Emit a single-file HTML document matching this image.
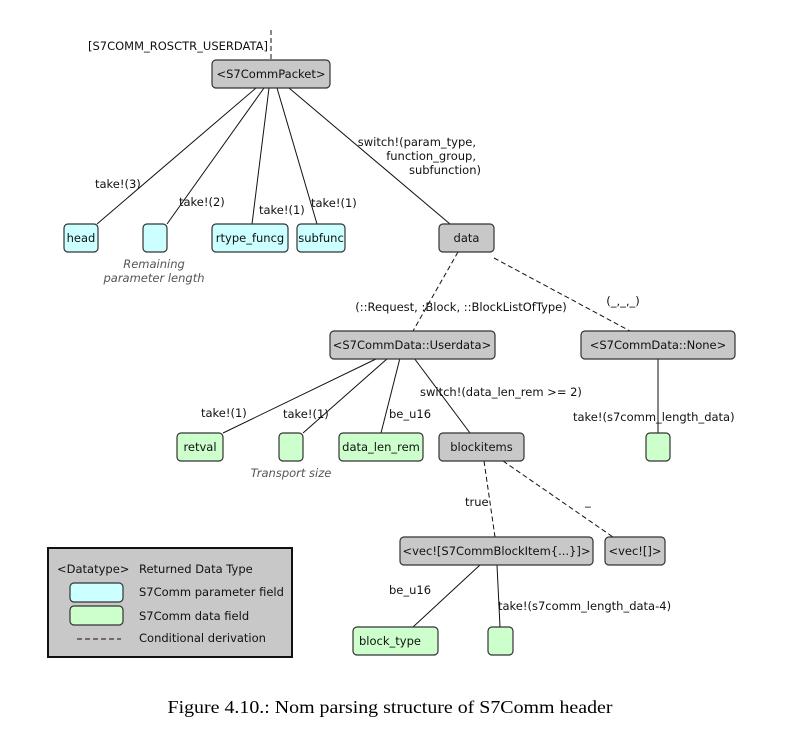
<!DOCTYPE html>
<html><head><meta charset="utf-8"><style>
html,body{margin:0;padding:0;background:#fff;}
svg{display:block;}
text{font-family:"DejaVu Sans","Liberation Sans",sans-serif;font-size:11.5px;fill:#111;}
.n{fill:#c8c8c8;stroke:#333;stroke-width:1.2;}
.p{fill:#ccffff;stroke:#333;stroke-width:1.2;}
.d{fill:#ccffcc;stroke:#333;stroke-width:1.2;}
.l{stroke:#111;stroke-width:1;fill:none;}
.ds{stroke:#111;stroke-width:1;fill:none;stroke-dasharray:5,3;}
.i{font-style:italic;fill:#555;}
</style></head><body>
<svg width="793" height="741" viewBox="0 0 793 741">
<line class="ds" x1="271" y1="30" x2="271" y2="60"/>
<line class="l" x1="256" y1="88" x2="97" y2="224"/>
<line class="l" x1="264" y1="88" x2="167" y2="224"/>
<line class="l" x1="269" y1="88" x2="252" y2="224"/>
<line class="l" x1="277" y1="88" x2="317" y2="224"/>
<line class="l" x1="289" y1="88" x2="450" y2="224"/>
<line class="ds" x1="458" y1="252" x2="413" y2="331"/>
<line class="ds" x1="494" y1="258" x2="630" y2="331"/>
<line class="l" x1="378" y1="358" x2="223" y2="433"/>
<line class="l" x1="388" y1="358" x2="303" y2="433"/>
<line class="l" x1="400" y1="358" x2="381" y2="433"/>
<line class="l" x1="414" y1="358" x2="470" y2="433"/>
<line class="l" x1="658" y1="358" x2="658" y2="433"/>
<line class="ds" x1="484" y1="461" x2="495" y2="537"/>
<line class="ds" x1="503" y1="461" x2="613" y2="537"/>
<line class="l" x1="480" y1="565" x2="413" y2="627"/>
<line class="l" x1="497" y1="565" x2="500" y2="627"/>

<rect class="n" x="212" y="60" width="118" height="28" rx="4"/>
<text x="271" y="78" text-anchor="middle">&lt;S7CommPacket&gt;</text>
<text x="268" y="50" text-anchor="end">[S7COMM_ROSCTR_USERDATA]</text>

<rect class="p" x="64" y="224" width="34" height="28" rx="4"/>
<text x="81" y="242" text-anchor="middle">head</text>
<rect class="p" x="143" y="224" width="24" height="28" rx="4"/>
<rect class="p" x="212" y="224" width="76" height="28" rx="4"/>
<text x="250" y="242" text-anchor="middle">rtype_funcg</text>
<rect class="p" x="297" y="224" width="48" height="28" rx="4"/>
<text x="321" y="242" text-anchor="middle">subfunc</text>
<rect class="n" x="439" y="224" width="55" height="28" rx="4"/>
<text x="466.5" y="242" text-anchor="middle">data</text>

<text x="95" y="188">take!(3)</text>
<text x="179" y="206">take!(2)</text>
<text x="259" y="214">take!(1)</text>
<text x="311" y="207">take!(1)</text>
<text x="476" y="146" text-anchor="end">switch!(param_type,</text>
<text x="476" y="160" text-anchor="end">function_group,</text>
<text x="481" y="174" text-anchor="end">subfunction)</text>
<text class="i" x="154" y="268" text-anchor="middle">Remaining</text>
<text class="i" x="154" y="282" text-anchor="middle">parameter length</text>

<text x="461" y="311" text-anchor="middle">(::Request, :Block, ::BlockListOfType)</text>
<text x="623" y="305" text-anchor="middle">(_,_,_)</text>

<rect class="n" x="330" y="331" width="165" height="28" rx="4"/>
<text x="412" y="349" text-anchor="middle">&lt;S7CommData::Userdata&gt;</text>
<rect class="n" x="581" y="331" width="154" height="28" rx="4"/>
<text x="658" y="349" text-anchor="middle">&lt;S7CommData::None&gt;</text>

<text x="201" y="417">take!(1)</text>
<text x="283" y="418">take!(1)</text>
<text x="389" y="418">be_u16</text>
<text x="420" y="396">switch!(data_len_rem &gt;= 2)</text>
<text x="573" y="421">take!(s7comm_length_data)</text>

<rect class="d" x="177" y="433" width="46" height="28" rx="4"/>
<text x="200" y="451" text-anchor="middle">retval</text>
<rect class="d" x="279" y="433" width="24" height="28" rx="4"/>
<rect class="d" x="339" y="433" width="84" height="28" rx="4"/>
<text x="381" y="451" text-anchor="middle">data_len_rem</text>
<rect class="n" x="439" y="433" width="85" height="28" rx="4"/>
<text x="481.5" y="451" text-anchor="middle">blockitems</text>
<rect class="d" x="646" y="433" width="24" height="28" rx="4"/>
<text class="i" x="291" y="477" text-anchor="middle">Transport size</text>

<text x="465" y="506">true</text>
<text x="585" y="505">_</text>

<rect class="n" x="400" y="537" width="193" height="28" rx="4"/>
<text x="496.5" y="555" text-anchor="middle">&lt;vec![S7CommBlockItem{...}]&gt;</text>
<rect class="n" x="605" y="537" width="60" height="28" rx="4"/>
<text x="635" y="555" text-anchor="middle">&lt;vec![]&gt;</text>

<text x="389" y="594">be_u16</text>
<text x="498" y="610">take!(s7comm_length_data-4)</text>

<rect class="d" x="353" y="627" width="85" height="28" rx="4"/>
<text x="359" y="645">block_type</text>
<rect class="d" x="488" y="627" width="25" height="28" rx="4"/>

<rect x="48" y="548" width="244" height="109" fill="#c8c8c8" stroke="#111" stroke-width="2"/>
<text x="57" y="573">&lt;Datatype&gt;</text>
<text x="139" y="573">Returned Data Type</text>
<rect class="p" x="70" y="583" width="53" height="19" rx="4"/>
<text x="139" y="596">S7Comm parameter field</text>
<rect class="d" x="70" y="606" width="53" height="19" rx="4"/>
<text x="139" y="620">S7Comm data field</text>
<line class="ds" x1="77" y1="639" x2="121" y2="639" stroke-dasharray="4,3"/>
<text x="139" y="642">Conditional derivation</text>

<text x="390" y="713" text-anchor="middle" textLength="445" lengthAdjust="spacingAndGlyphs" style="font-family:'Liberation Serif',serif;font-size:18px;fill:#000">Figure 4.10.: Nom parsing structure of S7Comm header</text>
</svg>
</body></html>
